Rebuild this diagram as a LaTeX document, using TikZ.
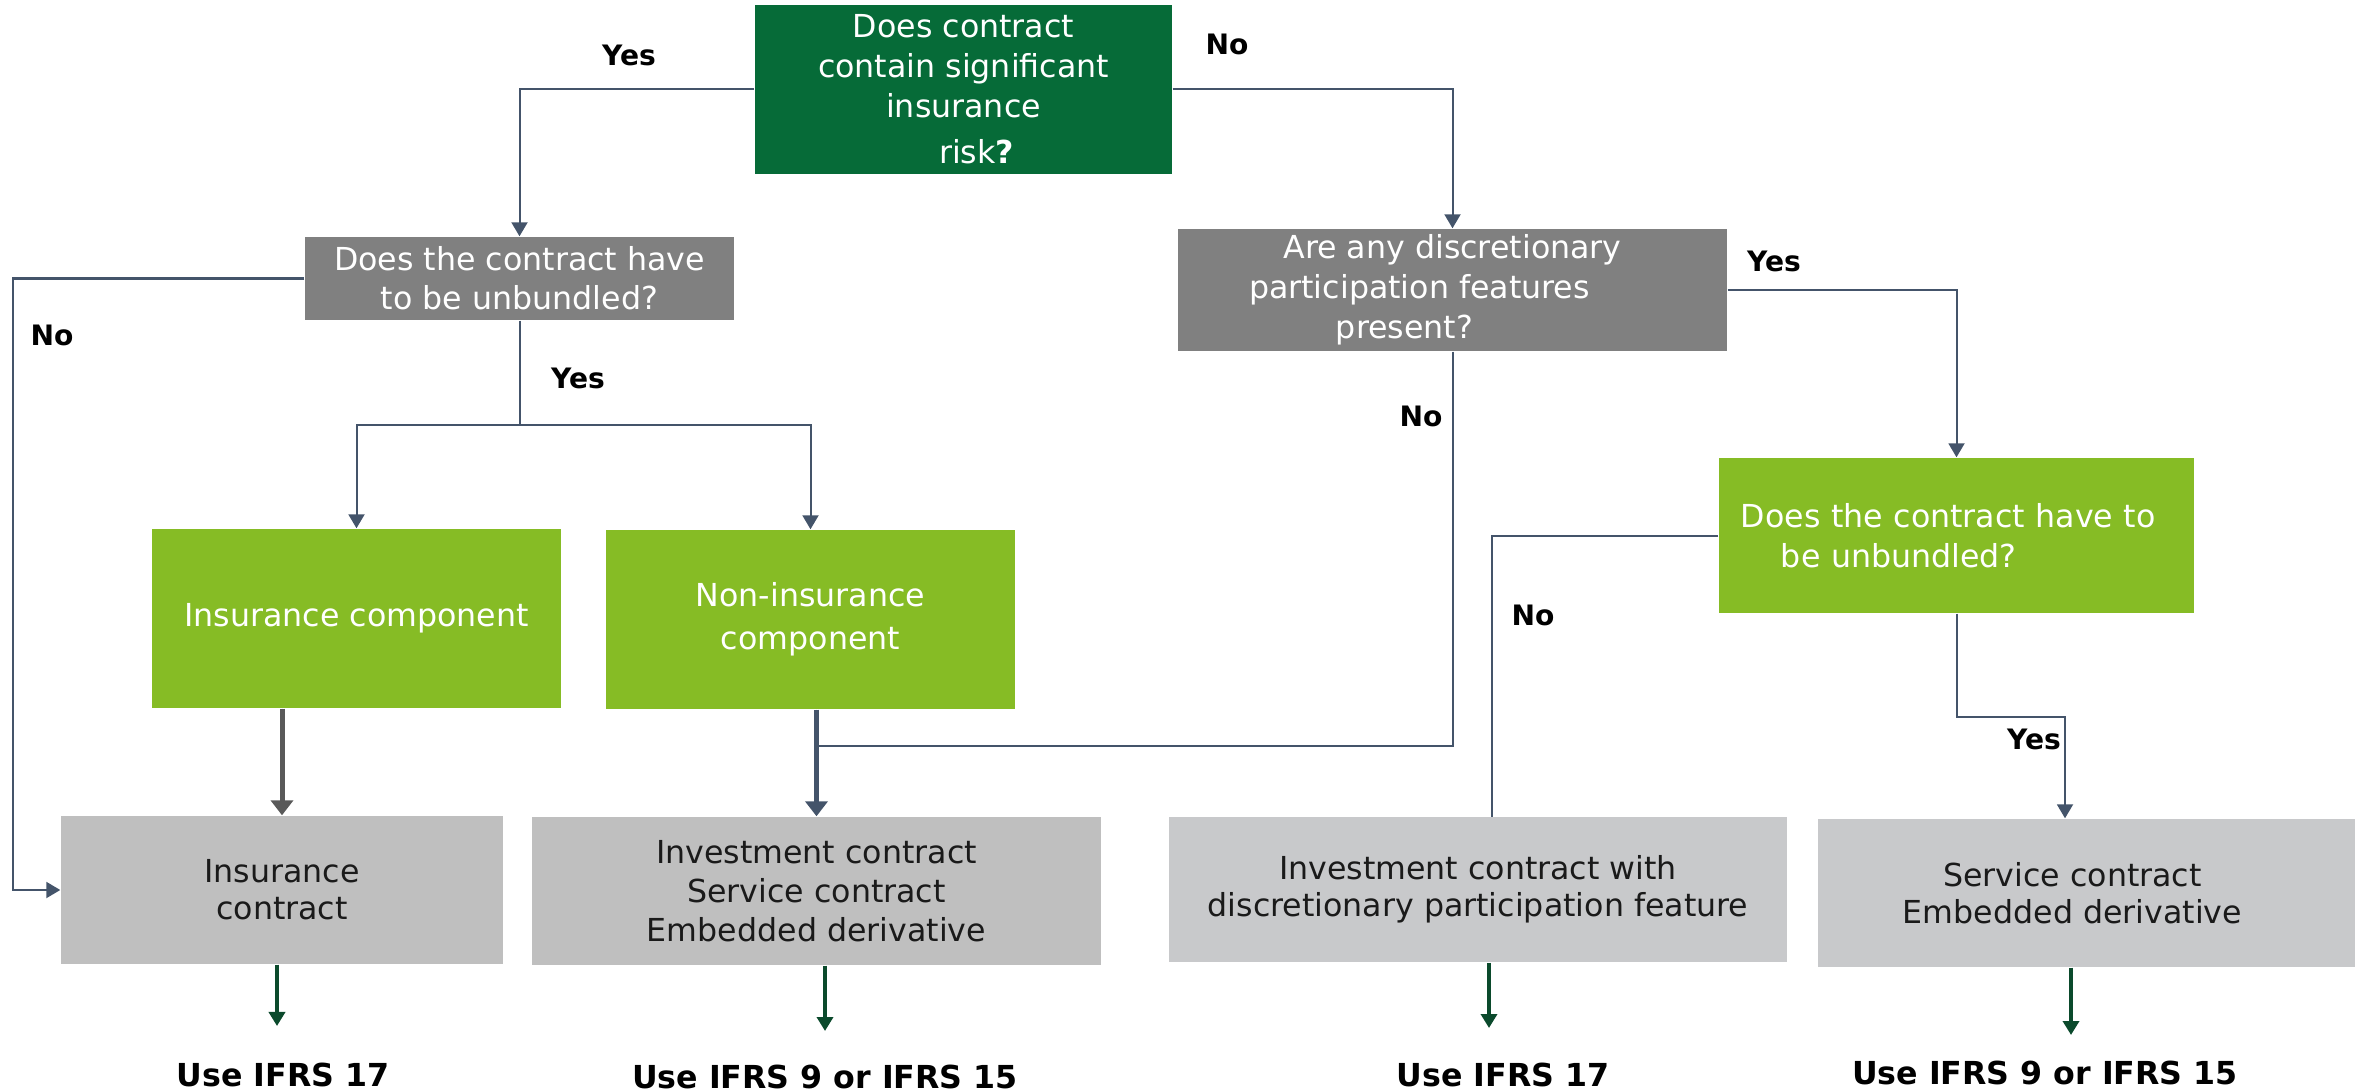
\documentclass[tikz,border=0pt]{standalone}
\usepackage{fontspec}
\setmainfont{DejaVu Sans}
\usetikzlibrary{arrows.meta,calc}

\definecolor{darkgrn}{HTML}{066B38}
\definecolor{limegrn}{HTML}{86BC25}
\definecolor{midgray}{HTML}{808080}
\definecolor{palegrayA}{HTML}{BFBFBF}
\definecolor{palegrayB}{HTML}{C8C9CB}
\definecolor{slate}{HTML}{44546A}
\definecolor{darkline}{HTML}{595959}
\definecolor{forest}{HTML}{0B4A2C}
\definecolor{inktext}{HTML}{1A1A1A}

\newcommand{\bodyfont}[1]{\fontsize{9}{#1}\selectfont}

\begin{document}
\begin{tikzpicture}[x=0.01cm,y=-0.01cm,
  sized/.style 2 args={minimum width=#1*0.01cm, minimum height=#2*0.01cm},
  box/.style={rectangle, inner sep=0pt, align=center},
  qbox/.style={box, text=white},
  rbox/.style={box, text=inktext},
  conn/.style={draw=slate, line width=0.02cm},
  connarr/.style={conn, -{Triangle[length=0.14cm,width=0.16cm]}},
  heavyarr/.style={line width=0.05cm, -{Triangle[length=0.15cm,width=0.22cm]}},
  garr/.style={draw=forest, line width=0.035cm, -{Triangle[length=0.14cm,width=0.16cm]}},
  yn/.style={inner sep=0pt, font=\bfseries\fontsize{8}{10}\selectfont},
  uselbl/.style={inner sep=0pt, font=\bfseries\fontsize{9}{11}\selectfont}
]
\useasboundingbox (0,0) rectangle (2357,1091);

% decision boxes
\node[qbox, fill=darkgrn, sized={417}{169}, font=\bodyfont{11.4pt}] (top) at (963.5,89.5)
  {Does contract\\contain significant\\insurance\\[0.06cm]\hbox{\kern0.26cm risk\textbf{?}}};
\node[qbox, fill=midgray, sized={429}{83}, font=\bodyfont{11pt}] (q1) at (519.5,278.5)
  {Does the contract have\\to be unbundled?};
\node[qbox, fill=midgray, sized={549}{122}, font=\bodyfont{11.4pt}] (q2) at (1452.5,290)
  {Are any discretionary\\\hbox{participation features\kern0.66cm}\\\hbox{present?\kern0.96cm}};
\node[qbox, fill=limegrn, sized={475}{155}, align=left, text width=4.31cm, font=\bodyfont{11.4pt}] (q3) at (1956.5,535.5)
  {Does the contract have to\\\hspace*{0.4cm}be unbundled?};

% components
\node[qbox, fill=limegrn, sized={409}{179}, font=\bodyfont{11pt}] (icomp) at (356.5,618.5)
  {Insurance component};
\node[qbox, fill=limegrn, sized={409}{179}, font=\bodyfont{12.2pt}] (ncomp) at (810.5,619.5)
  {Non-insurance\\component};

% outcome boxes
\node[rbox, fill=palegrayA, sized={442}{148}, font=\bodyfont{10.5pt}] (ic) at (282,890)
  {Insurance\\contract};
\node[rbox, fill=palegrayA, sized={569}{148}, font=\bodyfont{11pt}] (mid) at (816.5,891)
  {Investment contract\\Service contract\\Embedded derivative};
\node[rbox, fill=palegrayB, sized={618}{145}, font=\bodyfont{10.5pt}] (dpf) at (1478,889.5)
  {Investment contract with\\discretionary participation feature};
\node[rbox, fill=palegrayB, sized={537}{148}, font=\bodyfont{10.5pt}] (svc) at (2086.5,893)
  {\hbox{Service contract\kern0.28cm}\\\hbox{Embedded derivative\kern0.28cm}};

% standards
\node[uselbl] (u1) at (283,1075) {Use IFRS 17};
\node[uselbl] (u2) at (825,1077) {Use IFRS 9 or IFRS 15};
\node[uselbl] (u3) at (1503,1075) {Use IFRS 17};
\node[uselbl] (u4) at (2045,1073) {Use IFRS 9 or IFRS 15};

% branch labels
\node[yn] (y1) at (629,55) {Yes};
\node[yn] (n1) at (1227,44) {No};
\node[yn] (n2) at (52,335) {No};
\node[yn] (y2) at (578,378) {Yes};
\node[yn] (y3) at (1774,261) {Yes};
\node[yn] (n3) at (1421,416) {No};
\node[yn] (n4) at (1533,615) {No};
\node[yn] (y4) at (2034,739) {Yes};

% routing points
\coordinate (lrail) at (13,597);
\coordinate (split) at (519.5,425);
\coordinate (join) at (816.5,746);
\coordinate (dpfin) at (1492,817);
\coordinate (svcbend) at (2065,717);
\coordinate (g1) at (277,1026);
\coordinate (g2) at (825,1031);
\coordinate (g3) at (1489,1028);
\coordinate (g4) at (2071,1035);

% connectors
\draw[connarr] (top.west) -| (q1.north);
\draw[connarr] (top.east) -| (q2.north);
\draw[connarr] (q1.west) -| (lrail |- ic.west) -- (ic.west);
\draw[conn] (q1.south) -- (split);
\draw[connarr] (split) -| (icomp.north);
\draw[connarr] (split) -| (ncomp.north);
\draw[heavyarr, draw=darkline, fill=darkline] (icomp.south -| ic.north) -- (ic.north);
\draw[heavyarr, draw=slate, fill=slate] (ncomp.south -| mid.north) -- (mid.north);
\draw[conn] (q2.south) |- (join);
\draw[connarr] (q2.east) -| (q3.north);
\draw[conn] (q3.west) -| (dpfin);
\draw[connarr] (q3.south) |- (svcbend) -- (svcbend |- svc.north);

\draw[garr] (ic.south -| g1) -- (g1);
\draw[garr] (mid.south -| g2) -- (g2);
\draw[garr] (dpf.south -| g3) -- (g3);
\draw[garr] (svc.south -| g4) -- (g4);
\end{tikzpicture}
\end{document}
